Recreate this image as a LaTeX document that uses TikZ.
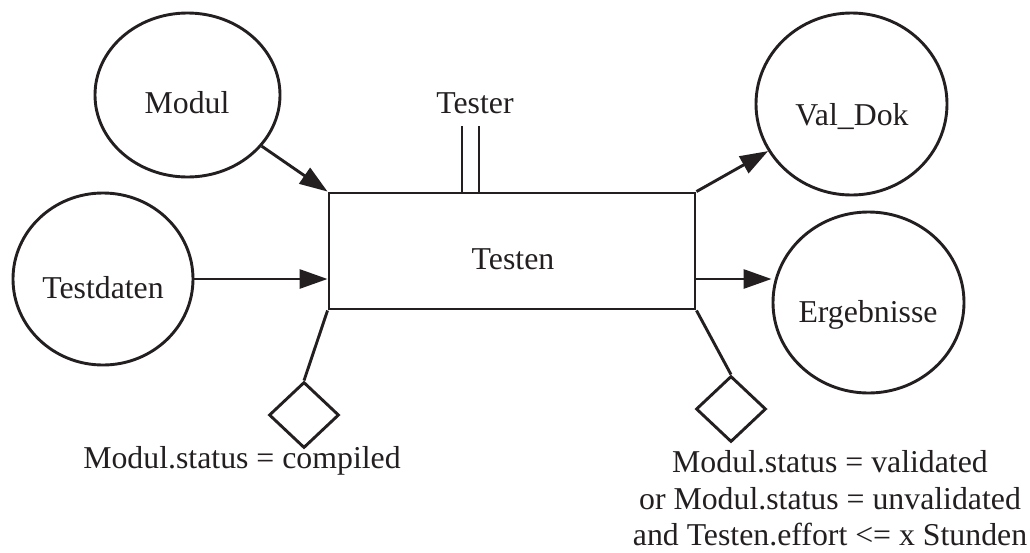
\documentclass[tikz,border=0pt]{standalone}
\usepackage{fontspec}
\setmainfont{Liberation Serif}
\usetikzlibrary{shapes.geometric,arrows.meta}
\definecolor{ink}{HTML}{231F20}
\begin{document}
\begin{tikzpicture}[x=1pt,y=-1pt,
  line/.style={line width=2.9pt, draw=ink},
  store/.style={ellipse, draw=ink, line width=2.9pt, inner sep=0pt},
  lbl/.style={font=\fontsize{31.8}{38}\selectfont, text=ink, inner sep=0pt, anchor=base},
  cond/.style={diamond, draw=ink, line width=2.9pt, inner sep=0pt,
               minimum width=70pt, minimum height=66pt},
  proc/.style={rectangle, draw=ink, line width=2.9pt, inner sep=0pt},
  flow/.style={line, -{Triangle[length=28pt,width=19pt]}},
]
\path[use as bounding box] (0,0) rectangle (1030,552);

% data stores
\node[store, minimum width=185pt, minimum height=164pt] (modul) at (187.5,95) {};
\node[lbl] (modul-t) at (187,113) {Modul};
\node[store, minimum width=180pt, minimum height=172pt] (testdaten) at (103,279) {};
\node[lbl] (testdaten-t) at (103,298) {Testdaten};
\node[store, minimum width=191pt, minimum height=182pt] (valdok) at (851.5,104) {};
\node[lbl] (valdok-t) at (852,125) {Val\_Dok};
\node[store, minimum width=191pt, minimum height=181pt] (ergebnisse) at (868.5,302.5) {};
\node[lbl] (ergebnisse-t) at (868,322) {Ergebnisse};

% process with its actor
\node[proc, minimum width=366pt, minimum height=116pt] (box) at (512,251) {};
\node[lbl] (testen-t) at (513,269) {Testen};
\node[lbl] (tester-t) at (475,113) {Tester};
\coordinate (tcol) at (470.5,0);
\coordinate (tjoin) at (box.north -| tcol);
\draw[line] ([xshift=-8.5pt]tjoin) -- ++(0,-66)
            ([xshift=8.5pt]tjoin) -- ++(0,-66);

% data flows
\draw[flow] (modul) -- (box.north west);
\draw[flow] (testdaten) -- (testdaten -| box.west);
\draw[flow] (box.north east) -- (valdok);
\draw[flow] (box.east |- testdaten) -- (ergebnisse.west |- testdaten);

% conditions
\node[cond] (c1) at (304,415) {};
\node[cond] (c2) at (731,409) {};
\draw[line] (box.south west) -- (c1.north);
\draw[line] (box.south east) -- (c2.north);

\node[lbl] (c1-t) at (242,468) {Modul.status = compiled};
\node[lbl] (c2-a) at (830,472) {Modul.status = validated};
\node[lbl] (c2-b) at (830,509) {or Modul.status = unvalidated};
\node[lbl] (c2-c) at (830,545) {and Testen.effort <= x Stunden};
\end{tikzpicture}
\end{document}
